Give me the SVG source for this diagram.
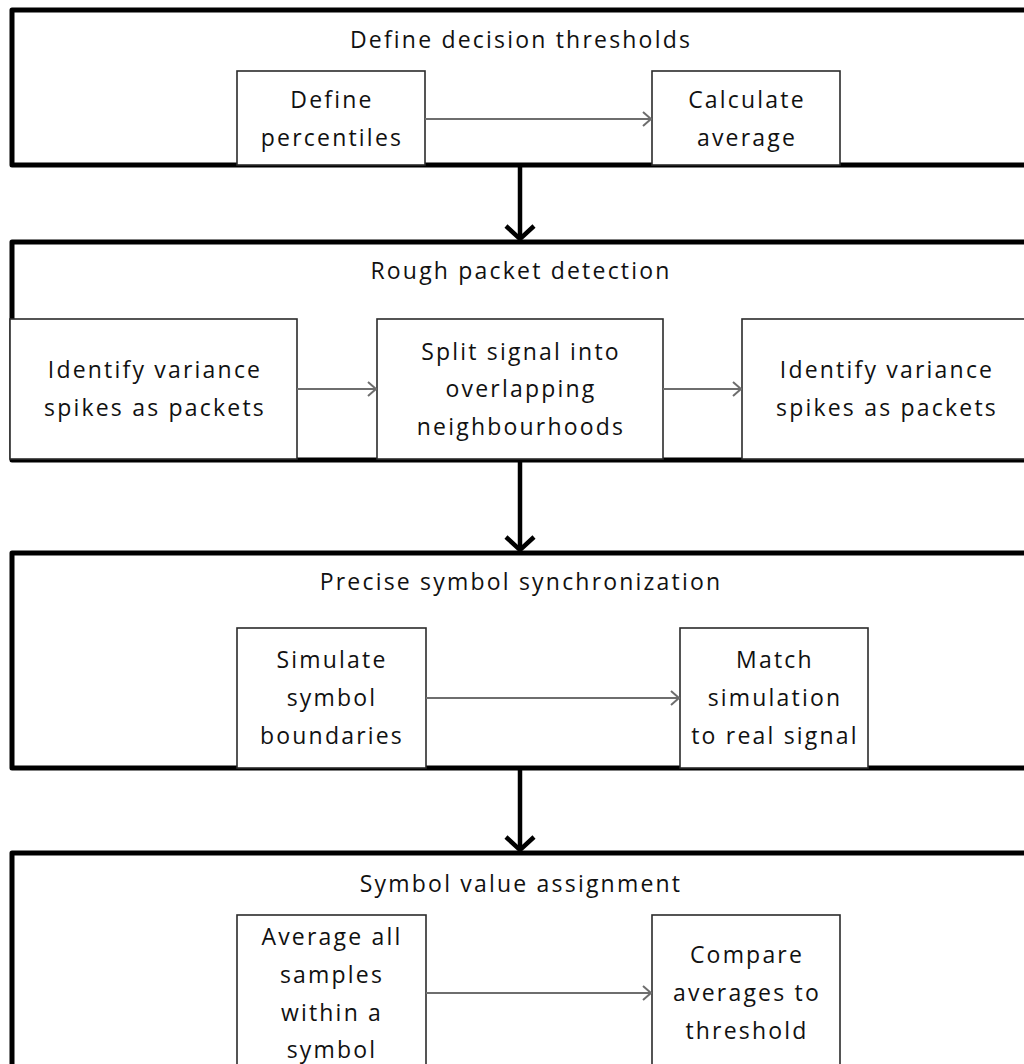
<svg xmlns="http://www.w3.org/2000/svg" width="1024" height="1064" viewBox="0 0 1024 1064">
  <defs>
    <style>
      .stage { fill: #ffffff; stroke: #000000; stroke-width: 5; stroke-linejoin: round; }
      .step { fill: #ffffff; stroke: #2b2b2b; stroke-width: 1.6; }
      .flow { fill: none; stroke: #6e6e6e; stroke-width: 2; }
      .main { fill: none; stroke: #000000; stroke-width: 4.5; }
      text { font-family: "Open Sans", "Noto Sans", "Liberation Sans", sans-serif; font-size: 23px; letter-spacing: 2.2px; fill: #111111; text-anchor: middle; }
    </style>
    <marker id="thin" markerUnits="userSpaceOnUse" markerWidth="20" markerHeight="20" viewBox="-12 -10 14 20" refX="0" refY="0" orient="auto">
      <path d="M-8,-7 L0,0 L-8,7" fill="none" stroke="#6e6e6e" stroke-width="2"/>
    </marker>
    <marker id="thick" markerUnits="userSpaceOnUse" markerWidth="40" markerHeight="40" viewBox="-20 -20 24 40" refX="0" refY="0" orient="auto">
      <path d="M-13,-14 L0,0 L-13,14" fill="none" stroke="#000000" stroke-width="4.5"/>
    </marker>
  </defs>

  <!-- Stage 1: decision thresholds -->
  <g id="stage-thresholds">
    <rect class="stage" x="12" y="10" width="1030" height="155"/>
    <text x="521" y="48">Define decision thresholds</text>
  </g>
  <g id="define-percentiles">
    <rect class="step" x="237" y="71" width="188" height="94"/>
    <text x="332" y="108">Define</text>
    <text x="332" y="146">percentiles</text>
  </g>
  <g id="calculate-average">
    <rect class="step" x="652" y="71" width="188" height="94"/>
    <text x="747" y="108">Calculate</text>
    <text x="747" y="146">average</text>
  </g>

  <!-- Stage 2: rough packet detection -->
  <g id="stage-rough">
    <rect class="stage" x="12" y="242" width="1030" height="218"/>
    <text x="521" y="279">Rough packet detection</text>
  </g>
  <g id="identify-spikes-1">
    <rect class="step" x="10" y="319" width="287" height="140"/>
    <text x="155" y="378">Identify variance</text>
    <text x="155" y="416">spikes as packets</text>
  </g>
  <g id="split-signal">
    <rect class="step" x="377" y="319" width="286" height="140"/>
    <text x="521" y="360">Split signal into</text>
    <text x="521" y="397">overlapping</text>
    <text x="521" y="435">neighbourhoods</text>
  </g>
  <g id="identify-spikes-2">
    <rect class="step" x="742" y="319" width="287" height="140"/>
    <text x="887" y="378">Identify variance</text>
    <text x="887" y="416">spikes as packets</text>
  </g>

  <!-- Stage 3: symbol synchronization -->
  <g id="stage-sync">
    <rect class="stage" x="12" y="553" width="1030" height="215"/>
    <text x="521" y="590">Precise symbol synchronization</text>
  </g>
  <g id="simulate-boundaries">
    <rect class="step" x="237" y="628" width="189" height="140"/>
    <text x="332" y="668">Simulate</text>
    <text x="332" y="706">symbol</text>
    <text x="332" y="744">boundaries</text>
  </g>
  <g id="match-simulation">
    <rect class="step" x="680" y="628" width="188" height="140"/>
    <text x="775" y="668">Match</text>
    <text x="775" y="706">simulation</text>
    <text x="775" y="744">to real signal</text>
  </g>

  <!-- Stage 4: symbol value assignment -->
  <g id="stage-assign">
    <rect class="stage" x="12" y="853" width="1030" height="300"/>
    <text x="521" y="892">Symbol value assignment</text>
  </g>
  <g id="average-samples">
    <rect class="step" x="237" y="915" width="189" height="200"/>
    <text x="332" y="945">Average all</text>
    <text x="332" y="983">samples</text>
    <text x="332" y="1021">within a</text>
    <text x="332" y="1058">symbol</text>
  </g>
  <g id="compare-threshold">
    <rect class="step" x="652" y="915" width="188" height="200"/>
    <text x="747" y="963">Compare</text>
    <text x="747" y="1001">averages to</text>
    <text x="747" y="1039">threshold</text>
  </g>

  <!-- Connectors -->
  <g id="connectors">
    <line class="flow" x1="425" y1="119" x2="651" y2="119" marker-end="url(#thin)"/>
    <line class="flow" x1="297" y1="389" x2="376" y2="389" marker-end="url(#thin)"/>
    <line class="flow" x1="663" y1="389" x2="741" y2="389" marker-end="url(#thin)"/>
    <line class="flow" x1="426" y1="698" x2="679" y2="698" marker-end="url(#thin)"/>
    <line class="flow" x1="426" y1="993" x2="651" y2="993" marker-end="url(#thin)"/>
    <line class="main" x1="520" y1="167" x2="520" y2="239" marker-end="url(#thick)"/>
    <line class="main" x1="520" y1="462" x2="520" y2="550" marker-end="url(#thick)"/>
    <line class="main" x1="520" y1="770" x2="520" y2="850" marker-end="url(#thick)"/>
  </g>
</svg>
